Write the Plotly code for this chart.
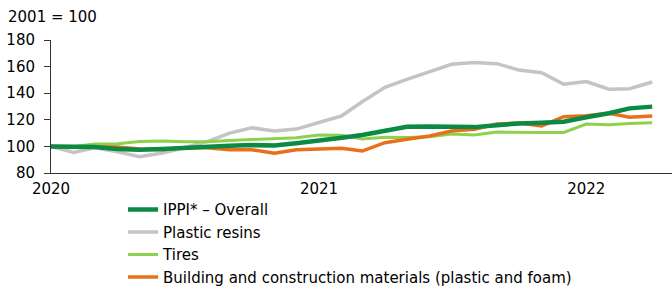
import plotly.graph_objects as go
import pandas as pd

months = pd.date_range("2020-01-01", periods=28, freq="MS")

ippi_overall = [100, 100, 99.5, 98, 97.5, 98, 99, 100, 100.5, 101, 100.6, 102.3, 104, 106.5,
                108.6, 111.6, 114.8, 115, 114.8, 114.5, 115.9, 117.3, 117.8, 118.6, 121.9, 124.9, 128.6, 129.9]
plastic_resins = [100, 95.5, 99, 96, 92.3, 95, 99, 103.6, 110, 114, 111.6, 113, 118, 123,
                  133.6, 144.4, 150.4, 156, 161.7, 163, 162.2, 157.4, 155.4, 146.7, 148.7, 143, 143.4, 148.4]
tires = [100, 100, 101.8, 102, 103.6, 104, 103.5, 103.5, 104.5, 105, 105.5, 106.5, 108.6, 108.3,
         105.6, 106.8, 106.6, 107.3, 109.3, 108.6, 110.8, 110.5, 110.5, 110.5, 116.8, 116.3, 117.3, 117.8]
building = [100, 100, 100, 99.5, 98, 97.5, 99, 99, 97.5, 97.5, 94.8, 97.5, 98, 98.6,
            96.5, 102.8, 105.3, 107.8, 111.6, 112.8, 116.8, 117.6, 115.3, 122.3, 123.1, 124.9, 121.9, 122.9]

series_names = ["IPPI* \u2013 Overall", "Plastic resins", "Tires",
                "Building and construction materials (plastic and foam)"]
x_tick_vals = ["2020-01-01", "2021-01-01", "2022-01-01"]
x_tick_text = ["2020", "2021", "2022"]
y_tick_vals = [80, 100, 120, 140, 160, 180]

colors = ["#0b8a43", "#c4c4c4", "#8ed14d", "#e8701a"]
widths = [4.5, 3.5, 3, 3.5]
data = [ippi_overall, plastic_resins, tires, building]

fig = go.Figure()
traces = {}
for i, (name, vals) in enumerate(zip(series_names, data)):
    traces[i] = go.Scatter(x=months, y=vals, mode="lines", name=name,
                           line=dict(color=colors[i], width=widths[i]),
                           legendrank=i + 1)
for i in [1, 2, 3, 0]:
    fig.add_trace(traces[i])

font_family = "DejaVu Sans"
fig.update_layout(
    width=672, height=288,
    margin=dict(l=51, r=0, t=40, b=115, autoexpand=False),
    plot_bgcolor="white", paper_bgcolor="white",
    font=dict(family=font_family, size=15, color="#000000"),
    showlegend=True,
    legend=dict(x=0.116, y=-0.152, xanchor="left", yanchor="top",
                font=dict(size=15, family=font_family, color="#000000"),
                traceorder="normal", tracegroupgap=0,
                bgcolor="rgba(0,0,0,0)"),
    xaxis=dict(range=["2020-01-01", "2022-04-28"], tickvals=x_tick_vals, ticktext=x_tick_text,
               showgrid=False, showline=True, linecolor="#333333", linewidth=1,
               ticks="", zeroline=False, tickfont=dict(size=15), automargin=False,
               ticklabelstandoff=2),
    yaxis=dict(range=[80, 180], tickvals=y_tick_vals, showgrid=False, showline=True,
               linecolor="#333333", linewidth=1, ticks="outside", ticklen=6,
               tickcolor="#333333", zeroline=False, tickfont=dict(size=15),
               automargin=False, ticklabelstandoff=6),
    annotations=[dict(text="2001 = 100", x=0, xref="paper", xanchor="left",
                      xshift=-45, y=1, yref="paper", yanchor="bottom", yshift=12,
                      showarrow=False, font=dict(size=15, family=font_family))],
)
fig.write_html("out.html", config={"displayModeBar": False},
               post_script="document.body.style.margin='0';")
